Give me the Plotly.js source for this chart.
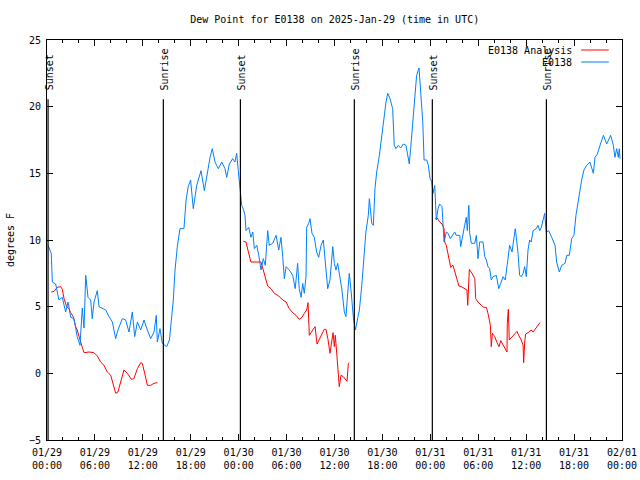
<!DOCTYPE html>
<html>
<head>
<meta charset="utf-8">
<script src="https://cdn.plot.ly/plotly-3.0.1.min.js"></script>
<style>html,body{margin:0;padding:0;background:#fff;}#chart{width:640px;height:480px;}</style>
</head>
<body>
<div id="chart"></div>
<script>
// Hours since 2025-01-29 00:00 UTC
const blueHours = [0.13,0.54,0.66,1.09,1.50,1.92,2.34,2.63,2.97,3.38,3.79,4.13,4.42,4.63,4.85,5.13,5.47,5.67,5.89,6.30,6.51,6.92,7.35,7.76,8.18,8.60,8.89,9.43,9.85,10.27,10.68,10.98,11.31,11.73,12.15,12.56,12.99,13.40,13.69,13.81,14.15,14.44,14.99,15.34,15.82,16.03,16.32,16.65,17.15,17.41,17.69,17.99,18.32,18.75,19.28,19.70,20.07,20.41,20.70,21.04,21.45,21.88,22.29,22.50,22.83,23.25,23.54,23.75,23.95,24.17,24.38,24.58,24.79,24.92,25.26,25.54,25.76,25.96,26.26,26.51,26.80,27.09,27.34,27.64,27.84,28.26,28.68,29.01,29.30,29.51,29.71,29.93,30.34,30.77,31.09,31.39,31.59,31.81,32.02,32.22,32.43,32.52,32.77,32.93,33.18,33.47,33.77,34.02,34.31,34.60,34.85,35.15,35.44,35.78,35.98,36.19,36.40,36.69,36.94,37.23,37.44,37.65,37.85,38.07,38.35,38.61,38.78,38.98,39.11,39.41,39.69,39.94,40.23,40.36,40.66,40.86,41.07,41.28,41.61,41.91,42.20,42.45,42.66,42.95,43.29,43.49,43.70,43.99,44.29,44.62,44.95,45.12,45.37,45.54,45.79,46.08,46.29,46.58,46.79,47.05,47.21,47.55,47.75,47.96,48.17,48.34,48.55,48.75,48.96,49.17,49.46,49.71,50.00,50.21,50.50,50.84,51.05,51.25,51.68,51.80,52.09,52.30,52.50,52.63,52.81,52.93,53.13,53.56,53.76,53.97,54.19,54.60,54.81,55.01,55.22,55.43,55.64,55.85,56.26,56.56,56.81,57.10,57.39,57.64,57.94,58.23,58.48,58.64,58.77,58.98,59.19,59.39,59.61,59.82,60.02,60.23,60.44,60.64,60.86,61.27,61.48,61.70,61.90,62.11,62.32,62.52,62.82,63.20,63.61,63.82,64.15,64.45,64.86,65.08,65.40,65.70,65.99,66.24,66.53,66.65,66.95,67.24,67.58,67.99,68.41,68.62,68.91,69.25,69.66,70.08,70.59,70.91,71.12,71.34,71.54,71.66,71.75];
const blueValues = [9.6,9.0,6.85,6.7,5.5,5.7,4.6,5.35,4.2,4.1,2.75,2.1,4.9,3.4,7.35,5.7,5.5,4.1,5.35,6.2,5.0,4.9,4.75,4.25,3.85,2.6,3.25,4.1,4.0,3.1,4.6,2.75,3.85,3.25,4.0,3.25,2.6,3.1,4.35,2.35,3.35,2.25,2.0,2.5,5.5,7.75,9.5,10.85,10.85,13.0,14.0,14.5,12.35,14.1,15.2,13.7,15.0,16.2,16.85,15.85,15.35,15.85,15.35,14.7,15.7,16.1,15.85,16.5,15.2,13.6,12.6,12.3,11.9,10.7,10.95,10.2,10.6,9.35,9.6,8.85,7.75,8.6,8.1,10.7,9.6,9.75,10.35,9.25,10.2,8.75,7.1,8.0,7.75,7.35,6.35,8.25,6.35,5.7,6.75,6.0,7.25,10.95,11.25,11.6,10.5,10.2,9.1,8.7,9.6,10.0,8.25,6.35,7.0,9.5,8.25,7.75,8.25,7.25,6.25,4.6,4.25,6.0,7.5,6.25,4.25,3.25,3.75,4.1,4.75,6.6,8.85,10.6,11.85,13.1,11.25,11.1,13.85,15.1,16.35,17.85,19.35,20.35,21.0,20.6,19.85,17.1,16.85,17.1,16.9,17.2,17.1,16.6,15.7,16.85,18.85,21.1,22.35,22.9,21.1,18.85,16.0,16.0,15.6,14.6,14.4,13.5,14.1,11.5,12.35,12.7,12.5,9.85,10.6,10.5,10.1,10.35,10.6,10.35,10.35,9.5,10.6,11.1,11.7,10.7,12.6,10.5,9.75,9.75,10.35,8.6,9.85,9.85,8.75,8.5,8.0,7.85,7.0,7.25,7.35,6.35,6.75,7.25,7.0,8.25,9.6,9.1,10.5,10.85,10.2,9.0,7.35,7.25,7.5,8.0,7.25,9.25,10.0,9.85,10.7,10.85,11.1,10.7,10.95,11.5,12.0,10.6,10.7,10.2,9.6,8.35,7.6,8.1,8.25,8.85,8.85,10.1,10.35,11.85,13.0,13.25,14.5,15.25,15.6,15.85,15.0,16.2,16.45,17.1,17.85,17.2,17.85,17.1,16.2,16.85,16.2,16.85,16.1];

const redHours = [0.54,0.88,1.29,1.72,1.92,2.13,2.47,2.75,2.97,3.29,3.59,3.79,4.22,4.63,5.26,5.89,6.30,6.72,7.14,7.55,7.98,8.26,8.60,8.89,9.23,9.64,10.06,10.56,10.89,11.31,11.73,11.93,12.23,12.56,12.99,13.40,13.81,
  20.0,
  24.58,24.92,25.21,25.54,26.17,26.80,27.09,27.34,27.64,28.05,28.46,29.01,29.51,29.93,30.34,30.77,31.18,31.59,31.93,32.22,32.52,32.68,32.85,33.27,33.56,33.81,34.10,34.44,34.72,34.94,35.19,35.44,35.65,35.81,35.98,36.10,36.19,36.40,36.60,36.81,37.10,37.57,37.73,37.85,
  43.0,
  48.62,48.87,49.17,49.46,49.71,49.80,50.00,50.21,50.55,50.84,51.05,51.25,51.59,51.88,52.30,52.59,52.68,52.81,52.88,53.22,53.56,53.68,53.97,54.38,54.68,55.01,55.22,55.51,55.64,55.76,56.06,56.35,56.60,56.81,57.10,57.31,57.60,57.64,57.76,57.89,58.23,58.56,58.85,59.06,59.39,59.61,59.69,59.82,59.94,60.23,60.64,60.86,61.15,61.48,61.73];
const redValues = [6.1,6.15,6.45,6.5,6.3,5.6,5.0,4.85,4.55,4.25,3.5,3.25,2.35,1.55,1.6,1.55,1.3,0.85,0.6,0.1,-0.15,-0.8,-1.5,-1.4,-0.65,0.25,0.0,-0.45,-0.4,0.35,0.8,0.75,0.0,-0.9,-0.9,-0.75,-0.7,
  null,
  9.9,9.85,9.1,8.35,8.35,8.35,7.75,7.1,6.55,6.35,6.0,5.8,5.5,5.35,4.85,4.55,4.35,4.05,4.2,4.5,4.75,5.3,2.85,3.25,3.5,2.2,2.55,3.0,3.3,3.3,2.55,1.5,2.25,3.05,2.0,2.85,2.25,0.85,-1.0,-0.15,-0.25,-0.6,0.75,0.8,
  null,
  11.6,11.65,11.35,11.2,10.85,9.85,9.6,8.85,7.95,8.1,7.6,7.1,6.55,6.5,6.35,6.25,5.1,6.75,7.8,7.5,7.1,5.6,5.35,5.1,4.95,4.95,4.5,3.6,2.0,3.0,2.75,2.3,2.0,2.45,2.1,1.85,1.6,3.75,4.8,2.5,2.75,3.0,3.15,2.85,2.5,2.1,0.8,2.35,2.95,3.05,3.25,3.1,3.3,3.55,3.8];

const sunHours = [0.13, 14.56, 24.22, 38.48, 48.25, 62.53];
const sunLabels = ['Sunset','Sunrise','Sunset','Sunrise','Sunset','Sunrise'];

const tickHours = [0,6,12,18,24,30,36,42,48,54,60,66,72];
const tickLabels = ['01/29<br>00:00','01/29<br>06:00','01/29<br>12:00','01/29<br>18:00','01/30<br>00:00','01/30<br>06:00','01/30<br>12:00','01/30<br>18:00','01/31<br>00:00','01/31<br>06:00','01/31<br>12:00','01/31<br>18:00','02/01<br>00:00'];

const seriesNames = ['E0138 Analysis', 'E0138'];
const seriesColors = ['#ff0000', '#0080ff'];

const BASE = Date.UTC(2025, 0, 29);
function pad(n){ return (n < 10 ? '0' : '') + n; }
function toDate(h){
  const d = new Date(BASE + Math.round(h * 60) * 60000);
  return d.getUTCFullYear() + '-' + pad(d.getUTCMonth()+1) + '-' + pad(d.getUTCDate()) + ' ' + pad(d.getUTCHours()) + ':' + pad(d.getUTCMinutes()) + ':00';
}

const FONT = 'DejaVu Sans Mono, monospace';

const traces = [
  {x: redHours.map(toDate), y: redValues, type: 'scatter', mode: 'lines', name: seriesNames[0],
   line: {color: seriesColors[0], width: 1, shape: 'linear'}, connectgaps: false, showlegend: false},
  {x: blueHours.map(toDate), y: blueValues, type: 'scatter', mode: 'lines', name: seriesNames[1],
   line: {color: seriesColors[1], width: 1}, showlegend: false}
];

const shapes = sunHours.map(h => ({type: 'line', xref: 'x', yref: 'y', x0: toDate(h), x1: toDate(h), y0: -5, y1: 20.55,
  line: {color: '#000', width: 1.2}, layer: 'above'}));

const annotations = sunHours.map((h, i) => ({xref: 'x', yref: 'y', x: toDate(h), y: 21.05, text: sunLabels[i],
  textangle: -90, showarrow: false, xanchor: 'center', yanchor: 'bottom', xshift: 1.5,
  font: {family: FONT, size: 10, color: '#000'}}));

// gnuplot-style key (text then sample on the right)
const keyY = [0.975, 0.945];
seriesNames.forEach((n, i) => {
  annotations.push({xref: 'paper', yref: 'paper', x: 0.917, y: keyY[i], text: n, showarrow: false,
    xanchor: 'right', yanchor: 'middle', font: {family: FONT, size: 10, color: '#000'}});
  shapes.push({type: 'line', xref: 'paper', yref: 'paper', x0: 0.929, x1: 0.977, y0: keyY[i], y1: keyY[i],
    line: {color: seriesColors[i], width: 1}});
});

const layout = {
  width: 640, height: 480,
  margin: {l: 47, r: 18, t: 40, b: 40, pad: 0},
  paper_bgcolor: '#fff', plot_bgcolor: '#fff',
  font: {family: FONT, size: 10, color: '#000'},
  title: {text: 'Dew Point for E0138 on 2025-Jan-29 (time in UTC)', x: 0.523, xanchor: 'center', y: 0.96, yanchor: 'middle',
    font: {family: FONT, size: 10, color: '#000'}},
  showlegend: false,
  xaxis: {type: 'date', range: [toDate(0), toDate(72)], tickmode: 'array', tickvals: tickHours.map(toDate), ticktext: tickLabels,
    ticks: 'inside', ticklen: 6, tickcolor: '#000', tickwidth: 1, showline: true, linecolor: '#000', linewidth: 1, mirror: 'allticks',
    showgrid: false, zeroline: false, ticklabelstandoff: 3, tickfont: {family: FONT, size: 10, color: '#000'},
    minor: {dtick: 2*3600000, tick0: toDate(0), ticks: 'inside', ticklen: 3, tickcolor: '#000', showgrid: false}},
  yaxis: {range: [-5, 25], dtick: 5, tick0: 0, ticks: 'inside', ticklen: 6, tickcolor: '#000', showline: true, linecolor: '#000',
    linewidth: 1, mirror: 'allticks', showgrid: false, zeroline: false, ticklabelstandoff: 3, tickfont: {family: FONT, size: 10, color: '#000'},
    title: {text: 'degrees F', standoff: 12, font: {family: FONT, size: 10, color: '#000'}}},
  shapes: shapes,
  annotations: annotations
};

Plotly.newPlot('chart', traces, layout, {staticPlot: true, displayModeBar: false});
</script>
</body>
</html>
